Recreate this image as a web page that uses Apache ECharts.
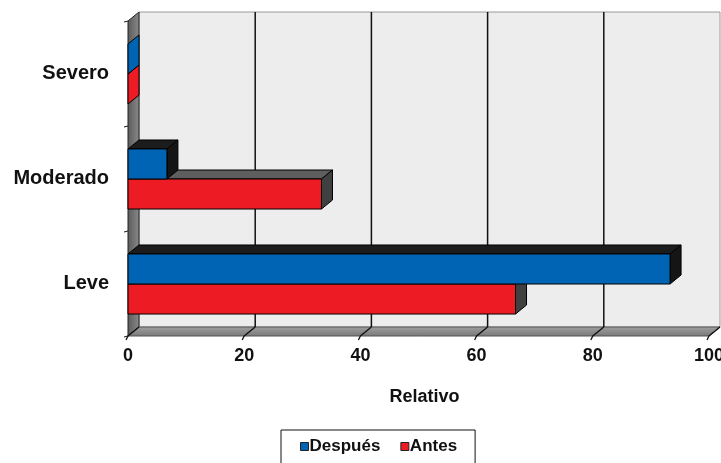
<!DOCTYPE html>
<html>
<head>
<meta charset="utf-8">
<style>
  html, body { margin: 0; padding: 0; background: #ffffff; }
  #chart { width: 721px; height: 463px; }
</style>
<script src="https://cdn.jsdelivr.net/npm/echarts@6/dist/echarts.min.js"></script>
</head>
<body>
<div id="chart"></div>
<script>
// Severity categories, bottom to top along the vertical axis
const categories = ['Leve', 'Moderado', 'Severo'];
// Relative frequency (%) per category
const despues = [93.3, 6.7, 0];
const antes = [66.7, 33.3, 0];
// Horizontal axis ticks
const xTicks = [0, 20, 40, 60, 80, 100];

const FONT = '"Liberation Sans", Arial, sans-serif';
const BLUE = '#0064b4';
const RED = '#ed1c24';
// 3D depth offset of the pseudo-perspective (pixels)
const DX = 11, DY = 9;

function pts(list) { return list.map(p => [p[0], p[1]]); }

// Walls, floor and gridlines of the 3D box
function renderWalls(params, api) {
  const cs = params.coordSys;
  const left = cs.x, top = cs.y, right = cs.x + cs.width, bottom = cs.y + cs.height;
  const children = [];
  // back wall
  children.push({
    type: 'rect',
    shape: { x: left + DX, y: top - DY, width: right - left, height: bottom - top },
    style: { fill: '#ededed', stroke: '#9a9a9a', lineWidth: 1 }
  });
  // left wall
  children.push({
    type: 'polygon',
    shape: { points: pts([[left, top], [left + DX, top - DY], [left + DX, bottom - DY], [left, bottom]]) },
    style: {
      fill: { type: 'linear', x: 0, y: 0, x2: 1, y2: 0,
        colorStops: [{ offset: 0, color: '#5a5a5a' }, { offset: 1, color: '#8a8a8a' }] },
      stroke: '#222', lineWidth: 1
    }
  });
  // floor
  children.push({
    type: 'polygon',
    shape: { points: pts([[left, bottom], [left + DX, bottom - DY], [right + DX, bottom - DY], [right, bottom]]) },
    style: {
      fill: { type: 'linear', x: 0, y: 0, x2: 0, y2: 1,
        colorStops: [{ offset: 0, color: '#a0a0a0' }, { offset: 1, color: '#787878' }] },
      stroke: '#555', lineWidth: 1
    }
  });
  // gridlines on back wall and across the floor
  xTicks.forEach(function (v) {
    const x = api.coord([v, 0])[0];
    if (v > 0 && v < 100) {
      children.push({
        type: 'line',
        shape: { x1: x + DX, y1: top - DY, x2: x + DX, y2: bottom - DY },
        style: { stroke: '#111', lineWidth: 1.5 }
      });
    }
    children.push({
      type: 'polyline',
      shape: { points: [[x + DX, bottom - DY], [x, bottom], [x - 2, bottom + 4]] },
      style: { stroke: '#111', lineWidth: 1.3, fill: null }
    });
  });
  // category ticks on the left wall
  for (let i = 0; i <= categories.length; i++) {
    const y = top + (bottom - top) * i / categories.length;
    children.push({
      type: 'line',
      shape: { x1: left - 4, y1: y + 1, x2: left, y2: y },
      style: { stroke: '#222', lineWidth: 1.2 }
    });
  }
  return { type: 'group', children: children };
}

// 3D bar: front face, top face, right side face
function makeBarRenderer(color, topColor, sideColor, slot) {
  return function (params, api) {
    const v = api.value(0);
    const ci = api.value(1);
    const base = api.coord([0, ci]);
    const end = api.coord([v, ci]);
    const band = api.size([0, 1])[1];
    const h = band * 0.286;
    const y0 = slot === 0 ? base[1] - h + 0.5 : base[1] + 0.5;
    const x0 = base[0], x1 = end[0];
    const children = [];
    if (x1 - x0 > 0.5) {
      children.push({
        type: 'polygon',
        shape: { points: pts([[x0, y0], [x0 + DX, y0 - DY], [x1 + DX, y0 - DY], [x1, y0]]) },
        style: { fill: topColor, stroke: '#000', lineWidth: 1 }
      });
    }
    children.push({
      type: 'polygon',
      shape: { points: pts([[x1, y0], [x1 + DX, y0 - DY], [x1 + DX, y0 + h - DY], [x1, y0 + h]]) },
      style: { fill: (x1 - x0 > 0.5) ? sideColor : color, stroke: '#000', lineWidth: 1 }
    });
    if (x1 - x0 > 0.5) {
      children.push({
        type: 'rect',
        shape: { x: x0, y: y0, width: x1 - x0, height: h },
        style: { fill: color, stroke: '#000', lineWidth: 1 }
      });
    }
    return { type: 'group', children: children };
  };
}

const chart = echarts.init(document.getElementById('chart'), null, { renderer: 'canvas' });

chart.setOption({
  backgroundColor: '#ffffff',
  animation: false,
  grid: { left: 128, right: 12, top: 21, bottom: 127, outerBoundsMode: 'none', containLabel: false },
  xAxis: {
    type: 'value',
    min: 0, max: 100, interval: 20,
    axisLine: { show: false },
    axisTick: { show: false },
    splitLine: { show: false },
    axisLabel: { margin: 11, color: '#111', fontFamily: FONT, fontWeight: 'bold', fontSize: 18 },
    name: 'Relativo',
    nameLocation: 'middle',
    nameGap: 52,
    nameTextStyle: { color: '#111', fontFamily: FONT, fontWeight: 'bold', fontSize: 18, padding: [0, 0, 0, 12] }
  },
  yAxis: {
    type: 'category',
    data: categories,
    axisLine: { show: false },
    axisTick: { show: false },
    splitLine: { show: false },
    axisLabel: { margin: 19, color: '#111', fontFamily: FONT, fontWeight: 'bold', fontSize: 20 }
  },
  legend: {
    data: ['Después', 'Antes'],
    left: 281, top: 430,
    orient: 'horizontal',
    padding: [8, 18, 24, 19],
    itemGap: 20,
    itemWidth: 8, itemHeight: 8,
    icon: 'rect',
    borderColor: '#111', borderWidth: 1,
    itemStyle: { borderColor: '#222', borderWidth: 1 },
    textStyle: { color: '#111', fontFamily: FONT, fontWeight: 'bold', fontSize: 17, padding: [0, 0, 0, -4] }
  },
  series: [
    {
      name: 'walls',
      type: 'custom',
      clip: false,
      silent: true,
      z: 1,
      renderItem: renderWalls,
      data: [[0, 0]]
    },
    {
      name: 'Antes',
      type: 'custom',
      clip: false,
      z: 2,
      itemStyle: { color: RED },
      renderItem: makeBarRenderer(RED, '#5e5e5e', '#404040', 1),
      data: antes.map((v, i) => [v, i])
    },
    {
      name: 'Después',
      type: 'custom',
      clip: false,
      z: 3,
      itemStyle: { color: BLUE },
      renderItem: makeBarRenderer(BLUE, '#1c1c1c', '#151515', 0),
      data: despues.map((v, i) => [v, i])
    }
  ]
});
</script>
</body>
</html>
